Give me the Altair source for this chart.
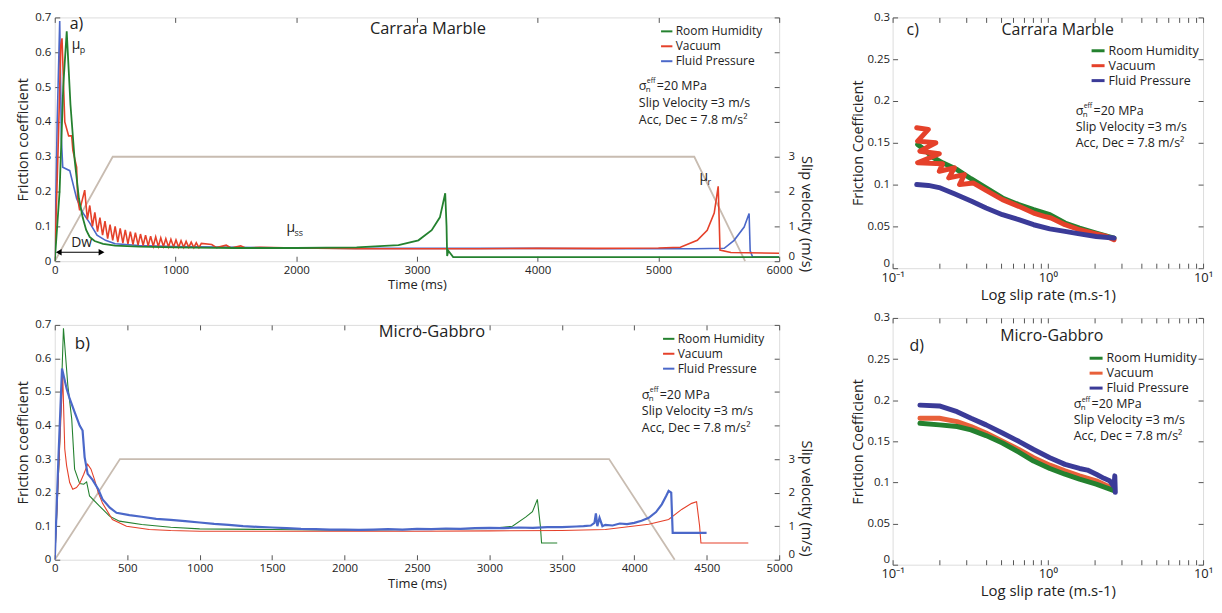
import altair as alt
import pandas as pd

FONT = "Open Sans"
TXT = "#222222"
GREEN = "#24812f"
RED = "#e5412a"
BLUE_AB = "#4b68c9"
BLUE_CD = "#3b3b98"
RED_D = "#e8603a"
SLIP = "#c8bcb1"
SERIES = ["Room Humidity", "Vacuum", "Fluid Pressure"]

# ---------------- panel a : Carrara Marble, friction vs time ----------------
a_rh_t = [0, 40, 70, 99, 130, 165, 200, 231, 260, 289, 330, 400, 500, 700, 1000, 1500, 2000, 2500,
          2847, 3012, 3122, 3190, 3234, 3245, 3250, 3260, 3300, 4000, 5000, 6000]
a_rh_mu = [0.0, 0.2, 0.5, 0.66, 0.45, 0.29, 0.18, 0.126, 0.09, 0.07, 0.058, 0.05, 0.045, 0.042, 0.04, 0.038,
           0.038, 0.04, 0.046, 0.06, 0.089, 0.126, 0.195, 0.1, 0.015, 0.03, 0.012, 0.012, 0.012, 0.012]

a_vac_t = [0, 30, 50, 60, 83, 115, 140, 150, 181, 190, 206, 248, 270, 290, 312, 332, 354, 374, 396, 416,
           438, 458, 480, 500, 522, 542, 564, 584, 606, 626, 648, 668, 690, 710, 732, 752, 774, 794, 816,
           836, 858, 878, 900, 920, 942, 962, 984, 1004, 1026, 1046, 1068, 1088, 1110, 1130, 1152, 1172,
           1194, 1214, 1300, 1340, 1420, 1460, 1540, 1580, 1700, 2000, 2500, 3000, 3500, 4000, 4500, 5000,
           5182, 5322, 5404, 5462, 5495, 5503, 5510, 5600, 6000]
a_vac_mu = [0.0, 0.35, 0.62, 0.64, 0.40, 0.36, 0.36, 0.318, 0.27, 0.18, 0.146, 0.204, 0.12, 0.16, 0.1,
            0.14, 0.085, 0.125, 0.075, 0.115, 0.065, 0.105, 0.06, 0.1, 0.055, 0.094, 0.052, 0.09, 0.05,
            0.085, 0.048, 0.082, 0.046, 0.078, 0.045, 0.075, 0.044, 0.072, 0.043, 0.07, 0.042, 0.067,
            0.042, 0.065, 0.041, 0.063, 0.041, 0.061, 0.04, 0.059, 0.04, 0.057, 0.04, 0.055, 0.039, 0.053,
            0.039, 0.051, 0.048, 0.039, 0.046, 0.038, 0.044, 0.038, 0.04, 0.038, 0.036, 0.036, 0.036,
            0.037, 0.037, 0.038, 0.04, 0.06, 0.089, 0.138, 0.215, 0.12, 0.032, 0.025, 0.023]

a_fp_t = [0, 20, 41, 55, 66, 124, 181, 231, 289, 350, 420, 500, 700, 1000, 1500, 2000, 2500, 3000, 3500,
          4000, 4500, 5000, 5300, 5545, 5627, 5710, 5751, 5760, 5780, 6000]
a_fp_mu = [0.0, 0.4, 0.69, 0.35, 0.27, 0.26, 0.18, 0.14, 0.11, 0.075, 0.06, 0.05, 0.045, 0.042, 0.04, 0.038,
           0.037, 0.037, 0.037, 0.037, 0.036, 0.036, 0.036, 0.037, 0.06, 0.098, 0.137, 0.03, 0.012, 0.012]

a_slip_t = [0, 480, 5297, 5718]
a_slip_v = [0, 3, 3, 0]

# ---------------- panel b : Micro-Gabbro, friction vs time ----------------
b_rh_t = [0, 30, 60, 90, 117, 137, 172, 200, 220, 240, 309, 378, 446, 600, 800, 1000, 1500, 2000, 2500,
          3000, 3159, 3250, 3297, 3331, 3352, 3360, 3468]
b_rh_mu = [0.0, 0.3, 0.69, 0.52, 0.42, 0.27, 0.227, 0.225, 0.232, 0.19, 0.16, 0.13, 0.115, 0.105, 0.097,
           0.092, 0.09, 0.088, 0.09, 0.093, 0.1, 0.127, 0.143, 0.18, 0.1, 0.05, 0.05]

b_vac_t = [0, 30, 55, 69, 82, 103, 124, 150, 172, 200, 227, 250, 275, 300, 330, 398, 495, 652, 800, 1000,
           1500, 2000, 2500, 3000, 3500, 3800, 4100, 4237, 4327, 4396, 4430, 4451, 4460, 4787]
b_vac_mu = [0.0, 0.3, 0.55, 0.33, 0.28, 0.23, 0.21, 0.215, 0.227, 0.255, 0.285, 0.27, 0.238, 0.2, 0.168,
            0.12, 0.1, 0.09, 0.087, 0.085, 0.085, 0.085, 0.085, 0.086, 0.087, 0.09, 0.106, 0.12, 0.15,
            0.168, 0.173, 0.1, 0.05, 0.05]

b_fp_t = [0, 25, 50, 82, 103, 137, 172, 192, 206, 227, 261, 300, 330, 380, 426, 515, 600, 700, 800, 900,
          1000, 1100, 1200, 1300, 1400, 1500, 1600, 1700, 1800, 1900, 2000, 2100, 2200, 2300, 2400, 2500,
          2600, 2700, 2800, 2900, 3000, 3100, 3200, 3300, 3400, 3500, 3600, 3650, 3700, 3725, 3735, 3745,
          3760, 3780, 3800, 3850, 3900, 3950, 4000, 4050, 4100, 4150, 4190, 4220, 4237, 4255, 4265, 4280,
          4499]
b_fp_mu = [0.0, 0.3, 0.57, 0.51, 0.48, 0.44, 0.40, 0.385, 0.306, 0.256, 0.238, 0.21, 0.18, 0.155, 0.14,
           0.133, 0.128, 0.122, 0.119, 0.115, 0.111, 0.107, 0.104, 0.1, 0.098, 0.096, 0.094, 0.092, 0.091,
           0.09, 0.09, 0.089, 0.09, 0.091, 0.09, 0.092, 0.091, 0.093, 0.092, 0.094, 0.095, 0.094, 0.096,
           0.095, 0.097, 0.097, 0.099, 0.1, 0.102, 0.11, 0.138, 0.1, 0.125, 0.1, 0.104, 0.102, 0.108, 0.106,
           0.11, 0.116, 0.125, 0.142, 0.165, 0.19, 0.205, 0.2, 0.08, 0.08, 0.08]

b_slip_t = [0, 450, 3826, 4279]
b_slip_v = [0, 3, 3, 0]

# ---------------- panel c : Carrara Marble, friction vs slip rate ----------------
c_rh_v = [0.145, 0.16, 0.18, 0.21, 0.26, 0.32, 0.4, 0.51, 0.65, 0.81, 1.03, 1.29, 1.6, 2.05, 2.67]
c_rh_mu = [0.148, 0.142, 0.133, 0.126, 0.118, 0.107, 0.096, 0.084, 0.076, 0.07, 0.064, 0.054, 0.048, 0.042, 0.036]
c_vac_v = [0.143, 0.17, 0.145, 0.19, 0.15, 0.2, 0.145, 0.21, 0.2, 0.25, 0.23, 0.29, 0.27, 0.33, 0.4, 0.51,
           0.65, 0.81, 0.95, 1.05, 1.29, 1.6, 2.05, 2.4, 2.67]
c_vac_mu = [0.168, 0.166, 0.152, 0.15, 0.14, 0.137, 0.126, 0.125, 0.116, 0.12, 0.108, 0.112, 0.1, 0.102,
            0.093, 0.082, 0.074, 0.066, 0.062, 0.06, 0.052, 0.046, 0.041, 0.038, 0.034]
c_fp_v = [0.143, 0.17, 0.203, 0.25, 0.323, 0.4, 0.51, 0.65, 0.81, 1.03, 1.29, 1.6, 2.05, 2.67]
c_fp_mu = [0.1, 0.099, 0.096, 0.089, 0.08, 0.072, 0.064, 0.058, 0.052, 0.047, 0.044, 0.041, 0.038, 0.036]

# ---------------- panel d : Micro-Gabbro, friction vs slip rate ----------------
d_rh_v = [0.15, 0.2, 0.26, 0.32, 0.4, 0.51, 0.65, 0.81, 1.03, 1.29, 1.6, 2.05, 2.67]
d_rh_mu = [0.172, 0.17, 0.168, 0.164, 0.157, 0.148, 0.137, 0.126, 0.117, 0.11, 0.104, 0.098, 0.09]
d_vac_v = [0.15, 0.2, 0.26, 0.32, 0.4, 0.51, 0.65, 0.81, 1.03, 1.29, 1.6, 2.05, 2.67]
d_vac_mu = [0.178, 0.178, 0.174, 0.168, 0.16, 0.15, 0.14, 0.13, 0.121, 0.114, 0.108, 0.102, 0.092]
d_fp_v = [0.15, 0.2, 0.26, 0.32, 0.4, 0.51, 0.65, 0.81, 1.03, 1.29, 1.6, 1.8, 2.05, 2.3, 2.5, 2.67, 2.7, 2.72]
d_fp_mu = [0.194, 0.193, 0.186, 0.178, 0.17, 0.16, 0.15, 0.14, 0.13, 0.122, 0.117, 0.115, 0.11, 0.105,
           0.102, 0.095, 0.108, 0.088]

# tick values
a_xticks = [0, 1000, 2000, 3000, 4000, 5000, 6000]
b_xticks = [0, 500, 1000, 1500, 2000, 2500, 3000, 3500, 4000, 4500, 5000]
mu_ticks = [0, 0.1, 0.2, 0.3, 0.4, 0.5, 0.6, 0.7]
v_ticks = [0, 1, 2, 3, 4, 5, 6, 7]
cd_yticks = [0, 0.05, 0.1, 0.15, 0.2, 0.25, 0.3]
log_ticks = [0.1, 0.2, 0.3, 0.4, 0.5, 0.6, 0.7, 0.8, 0.9, 1, 2, 3, 4, 5, 6, 7, 8, 9, 10]

ONE = pd.DataFrame({"k": [0]})
ZERO_UP = {"condition": {"test": "datum.value == 0", "value": "bottom"}, "value": "middle"}


def axis(orient, values, labels=True, title=None, fmt=None, label_expr=None, title_size=14.5,
         title_pad=3, label_pad=4, title_y=None, label_size=11.5, baseline=None):
    kw = dict(orient=orient, values=values, domain=False, ticks=True, tickSize=5, tickColor="#555555",
              tickWidth=1, offset=-5, grid=False, labels=labels, labelFont=FONT, labelFontSize=label_size,
              labelColor=TXT, labelPadding=label_pad, labelFlush=False, labelOverlap=False,
              titleFont=FONT, titleFontSize=title_size, titleFontWeight="normal", titleColor=TXT,
              titlePadding=title_pad, title=title)
    if fmt is not None:
        kw["format"] = fmt
    if label_expr is not None:
        kw["labelExpr"] = label_expr
    if title_y is not None:
        kw["titleY"] = title_y
    if baseline is not None:
        kw["labelBaseline"] = baseline
    return alt.Axis(**kw)


def txt(s, x, y, size=12.5, align="left"):
    return alt.Chart(ONE).mark_text(text=s, font=FONT, fontSize=size, align=align, baseline="middle",
                                    color=TXT).encode(x=alt.value(x), y=alt.value(y))


def mu_sub(sub, x, y):
    return [txt("μ", x, y, 14), txt(sub, x + 8, y + 5, 9)]


def params(x, y0, dy):
    return [txt("σ", x, y0), txt("n", x + 7, y0 + 4, 8), txt("eff", x + 8, y0 - 5, 7),
            txt("=20 MPa", x + 18, y0), txt("Slip Velocity =3 m/s", x, y0 + dy),
            txt("Acc, Dec = 7.8 m/s²", x, y0 + 2 * dy)]


def legend(lx, ly, sw, size=130, fs=12.5, rp=0):
    return alt.Legend(orient="none", legendX=lx, legendY=ly, title=None, symbolType="stroke",
                      symbolStrokeWidth=sw, symbolSize=size, labelFont=FONT, labelFontSize=fs,
                      labelColor=TXT, rowPadding=rp, labelOffset=2, padding=0)


def series_df(x, y, name):
    return pd.DataFrame({"x": x, "y": y, "series": name, "i": list(range(len(x)))})


def time_panel(data, colors, widths, draw_order, slip_t, slip_v, xdom, xticks, width, height, leg,
               texts, slip_title_y):
    xs = alt.Scale(domain=xdom, nice=False, zero=False)
    ys = alt.Scale(domain=[0, 0.7], nice=False)
    cs = alt.Scale(domain=SERIES, range=colors)
    xb = axis("bottom", xticks, title="Time (ms)", fmt="d", title_size=13, title_pad=3, label_pad=3)
    yl = axis("left", mu_ticks, title="Friction coefficient", fmt=".1~f", title_pad=4, label_pad=4)
    layers = []
    for k in draw_order:
        x, y = data[k]
        layers.append(alt.Chart(series_df(x, y, SERIES[k])).mark_line(strokeWidth=widths[k], clip=True).encode(
            x=alt.X("x:Q", scale=xs, axis=xb),
            y=alt.Y("y:Q", scale=ys, axis=yl),
            color=alt.Color("series:N", scale=cs, legend=leg),
            order=alt.Order("i:Q"),
        ))
    friction = alt.layer(*layers)
    slip = alt.Chart(pd.DataFrame({"x": slip_t, "v": slip_v})).mark_line(color=SLIP, strokeWidth=1.8).encode(
        x=alt.X("x:Q", scale=xs, axis=axis("top", xticks, labels=False)),
        y=alt.Y("v:Q", scale=alt.Scale(domain=[0, 7], nice=False),
                axis=axis("right", v_ticks, title="Slip velocity (m/s)",
                          label_expr="datum.value <= 3 ? datum.label : ''", label_pad=9,
                          title_pad=4, title_y=slip_title_y, fmt="d", baseline=ZERO_UP)),
    )
    return alt.layer(slip, friction, *texts).resolve_scale(y="independent").resolve_axis(
        x="independent", y="independent").properties(width=width, height=height)


def log_panel(data, colors, draw_order, width, height, leg, texts):
    xs = alt.Scale(type="log", domain=[0.1, 10], nice=False)
    ys = alt.Scale(domain=[0, 0.3], nice=False)
    cs = alt.Scale(domain=SERIES, range=colors)
    lab = "datum.value == 0.1 ? '10⁻¹' : (datum.value == 1 ? '10⁰' : (datum.value == 10 ? '10¹' : ''))"
    xb = axis("bottom", log_ticks, title="Log slip rate (m.s-1)", label_expr=lab, title_size=15,
              title_pad=3, label_pad=3, label_size=13)
    yl = axis("left", cd_yticks, title="Friction Coefficient", fmt=".2~f", title_pad=2, label_pad=3,
              baseline=ZERO_UP)
    layers = []
    for k in draw_order:
        x, y = data[k]
        layers.append(alt.Chart(series_df(x, y, SERIES[k])).mark_line(
            strokeWidth=5, strokeCap="round", strokeJoin="round", clip=True).encode(
            x=alt.X("x:Q", scale=xs, axis=xb),
            y=alt.Y("y:Q", scale=ys, axis=yl),
            color=alt.Color("series:N", scale=cs, legend=leg),
            order=alt.Order("i:Q"),
        ))
    friction = alt.layer(*layers)
    x0, y0 = data[0]
    ghost = alt.Chart(series_df(x0, y0, SERIES[0])).mark_point(opacity=0).encode(
        x=alt.X("x:Q", scale=xs, axis=axis("top", log_ticks, labels=False)),
        y=alt.Y("y:Q", scale=ys, axis=axis("right", cd_yticks, labels=False)),
    )
    return alt.layer(friction, ghost, *texts).resolve_axis(x="independent", y="independent").properties(
        width=width, height=height)


# ---- build panels ----
a_texts = [txt("a)", 15, 7, 16), *mu_sub("p", 17, 28), txt("Dw", 27, 227, 14, "center"),
           alt.Chart(ONE).mark_rule(color="black", strokeWidth=1.2).encode(
               x=alt.value(3), x2=alt.value(48), y=alt.value(236)),
           alt.Chart(ONE).mark_point(shape="triangle-left", filled=True, size=45, color="black", opacity=1).encode(
               x=alt.value(4), y=alt.value(236)),
           alt.Chart(ONE).mark_point(shape="triangle-right", filled=True, size=45, color="black", opacity=1).encode(
               x=alt.value(47), y=alt.value(236)),
           *mu_sub("ss", 233, 212), *mu_sub("r", 648, 160),
           txt("Carrara Marble", 375, 12, 16.5, "center"), *params(587, 69, 17)]
panel_a = time_panel([(a_rh_t, a_rh_mu), (a_vac_t, a_vac_mu), (a_fp_t, a_fp_mu)],
                     [GREEN, RED, BLUE_AB], [1.8, 1.6, 1.6], [2, 1, 0], a_slip_t, a_slip_v,
                     [0, 6000], a_xticks, 728, 245, legend(608, 7, 2, 130, 12, 2), a_texts, 197)

b_texts = [txt("b)", 20, 19, 17), txt("Micro-Gabbro", 379, 7, 16.5, "center"), *params(590, 70, 17)]
panel_b = time_panel([(b_rh_t, b_rh_mu), (b_vac_t, b_vac_mu), (b_fp_t, b_fp_mu)],
                     [GREEN, RED, BLUE_AB], [1.1, 1.1, 2.2], [0, 1, 2], b_slip_t, b_slip_v,
                     [0, 5000], b_xticks, 728, 236, legend(610, 7, 2, 130, 12, 2), b_texts, 174)

c_texts = [txt("c)", 14, 13, 16), txt("Carrara Marble", 166, 13, 16, "center"), *params(184, 94, 16)]
panel_c = log_panel([(c_rh_v, c_rh_mu), (c_vac_v, c_vac_mu), (c_fp_v, c_fp_mu)],
                    [GREEN, RED, BLUE_CD], [0, 1, 2], 312, 252, legend(198, 25, 3, 170, 12.5), c_texts)

d_texts = [txt("d)", 17, 28, 16), txt("Micro-Gabbro", 160, 18, 16, "center"), *params(182, 87, 16)]
panel_d = log_panel([(d_rh_v, d_rh_mu), (d_vac_v, d_vac_mu), (d_fp_v, d_fp_mu)],
                    [GREEN, RED_D, BLUE_CD], [1, 0, 2], 312, 248, legend(196, 32, 3, 170, 12.5), d_texts)

left = alt.vconcat(panel_a, panel_b, spacing=26).resolve_scale(color="independent")
right = alt.vconcat(panel_c, panel_d, spacing=8).resolve_scale(color="independent")
chart = alt.hconcat(left, right, spacing=34).resolve_scale(color="independent").properties(
    padding={"left": 7, "top": 1, "right": 0, "bottom": 0}
).configure_view(stroke="#8a8a8a", strokeWidth=1).configure(font=FONT, background="white")

chart.save("out.html", embed_options={"renderer": "svg", "actions": False})
